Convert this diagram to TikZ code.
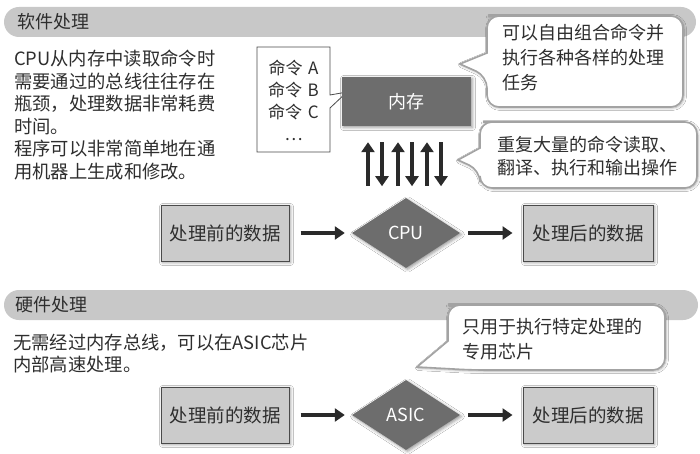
\documentclass[tikz,border=0pt]{standalone}
\usepackage{fontspec}
\setmainfont{Noto Sans CJK SC}
\usetikzlibrary{shapes.geometric,arrows.meta,shadows.blur,calc}
\definecolor{txt}{HTML}{2E2E2E}
\definecolor{hdr}{HTML}{C8C8C8}
\definecolor{boxfill}{HTML}{CBCBCB}
\definecolor{boxline}{HTML}{4A4A4A}
\definecolor{darkgr}{HTML}{6D6D6D}
\definecolor{arrowc}{HTML}{2A2A2A}
\definecolor{callline}{HTML}{A3A3A3}
\begin{document}
\begin{tikzpicture}[x=1pt,y=-1pt,
  >={Triangle[length=10pt,width=13pt]},
  hdrbar/.style={fill=hdr,rounded corners=15pt},
  hdrtxt/.style={text=txt,font=\fontsize{18}{22}\selectfont,anchor=west,inner sep=0pt},
  bodytxt/.style={text=txt,font=\fontsize{18.3}{22.5}\selectfont,anchor=west,align=left,inner sep=0pt},
  calltxt/.style={text=txt,font=\fontsize{18}{25}\selectfont,anchor=west,align=left,inner sep=0pt},
  callout/.style={draw=callline,line width=1.6pt,fill=white,rounded corners=12pt,
    blur shadow={shadow xshift=1pt,shadow yshift=-1pt,shadow blur radius=2.5pt,shadow opacity=35}},
  cmdbox/.style={draw=boxline,line width=0.8pt,fill=white},
  databox/.style={draw=boxline,line width=1pt,fill=boxfill,text=txt,minimum height=56pt,
    font=\fontsize{18.5}{22}\selectfont,inner sep=0pt,
    blur shadow={shadow xshift=1.5pt,shadow yshift=-1.5pt,shadow blur radius=3pt,shadow opacity=40}},
  proc/.style={diamond,fill=darkgr,text=white,minimum width=108pt,minimum height=70pt,inner sep=0pt,
    font=\fontsize{18}{22}\selectfont,
    blur shadow={shadow xshift=1.5pt,shadow yshift=-1.5pt,shadow blur radius=3pt,shadow opacity=40}},
  membox/.style={fill=darkgr,text=white,minimum width=129pt,minimum height=49pt,inner sep=0pt,
    font=\fontsize{18}{22}\selectfont,
    blur shadow={shadow xshift=1.5pt,shadow yshift=-1.5pt,shadow blur radius=3pt,shadow opacity=40}},
  flow/.style={draw=arrowc,line width=4.5pt,->},
  bus/.style={draw=arrowc,line width=4pt}
]
\useasboundingbox[fill=white] (0,0) rectangle (700,454);

% ---------- header bars ----------
\fill[hdrbar] (4,7) rectangle (696,37);
\node[hdrtxt] (h1) at (17,22) {软件处理};
\fill[hdrbar] (4,290) rectangle (698,320);
\node[hdrtxt] (h2) at (15,305) {硬件处理};

% ---------- left texts ----------
\node[bodytxt] (t1) at (14,115) {CPU从内存中读取命令时\\需要通过的总线往往存在\\瓶颈，处理数据非常耗费\\时间。\\程序可以非常简单地在通\\用机器上生成和修改。};
\node[bodytxt,font=\fontsize{18.3}{22}\selectfont] (t2) at (13,354) {无需经过内存总线，可以在ASIC芯片\\内部高速处理。};

% ---------- command list callout ----------
\draw[cmdbox] (257,47) -- (330,47) -- (330,95) -- (347,92) -- (330,108) -- (330,152) -- (257,152) -- cycle;
\node[text=txt,font=\fontsize{17}{22}\selectfont,align=center,inner sep=0pt] (cmds) at (293.5,100) {命令\,\,A\\命令\,\,B\\命令\,\,C\\…};

% ---------- memory ----------
\node[membox] (mem) at (406.5,101.5) {内存};

% ---------- callouts ----------
\draw[callout] (500,16) -- (683,16) -- (683,107) -- (487,107) -- (487,76) [sharp corners] -- (460,64) -- (487,53) [rounded corners=12pt] -- (487,16) -- cycle;
\node[calltxt] (c1) at (502,58) {可以自由组合命令并\\执行各种各样的处理\\任务};

\draw[callout] (495,122) -- (697,122) -- (697,188) -- (480,188) -- (480,170) [sharp corners] -- (458,160) -- (480,148) [rounded corners=12pt] -- (480,122) -- cycle;
\node[calltxt,font=\fontsize{18}{23}\selectfont] (c2) at (497,156.5) {重复大量的命令读取、\\翻译、执行和输出操作};

\draw[callout] (460,305) -- (665,305) -- (665,370) -- (472,370) [sharp corners] -- (417,367) -- (448,341) [rounded corners=12pt] -- (448,305) -- cycle;
\node[calltxt] (c3) at (462,339.5) {只用于执行特定处理的\\专用芯片};

% ---------- software row ----------
\node[databox,minimum width=128pt] (b1) at (225,233) {处理前的数据};
\node[proc] (cpu) at (406,233) {CPU};
\node[databox,minimum width=130pt] (b2) at (588,233) {处理后的数据};
\draw[flow,shorten <=11pt,shorten >=7pt] (b1) -- (cpu);
\draw[flow,shorten <=8pt,shorten >=10pt] (cpu) -- (b2);

% bus arrows between memory and CPU
\draw[bus,<-] ([xshift=-38.5pt,yshift=-16pt]mem.south) -- ([xshift=-38.5pt,yshift=-60pt]mem.south);
\draw[bus,->] ([xshift=-24.5pt,yshift=-16pt]mem.south) -- ([xshift=-24.5pt,yshift=-60pt]mem.south);
\draw[bus,<-] ([xshift=-8.5pt,yshift=-16pt]mem.south) -- ([xshift=-8.5pt,yshift=-60pt]mem.south);
\draw[bus,->] ([xshift=5.5pt,yshift=-16pt]mem.south) -- ([xshift=5.5pt,yshift=-60pt]mem.south);
\draw[bus,<-] ([xshift=20.5pt,yshift=-16pt]mem.south) -- ([xshift=20.5pt,yshift=-60pt]mem.south);
\draw[bus,->] ([xshift=34.5pt,yshift=-16pt]mem.south) -- ([xshift=34.5pt,yshift=-60pt]mem.south);

% ---------- hardware row ----------
\node[databox,minimum width=128pt] (b3) at (225,415) {处理前的数据};
\node[proc] (asic) at (406,415) {ASIC};
\node[databox,minimum width=130pt] (b4) at (588,415) {处理后的数据};
\draw[flow,shorten <=11pt,shorten >=7pt] (b3) -- (asic);
\draw[flow,shorten <=8pt,shorten >=10pt] (asic) -- (b4);
\end{tikzpicture}
\end{document}
